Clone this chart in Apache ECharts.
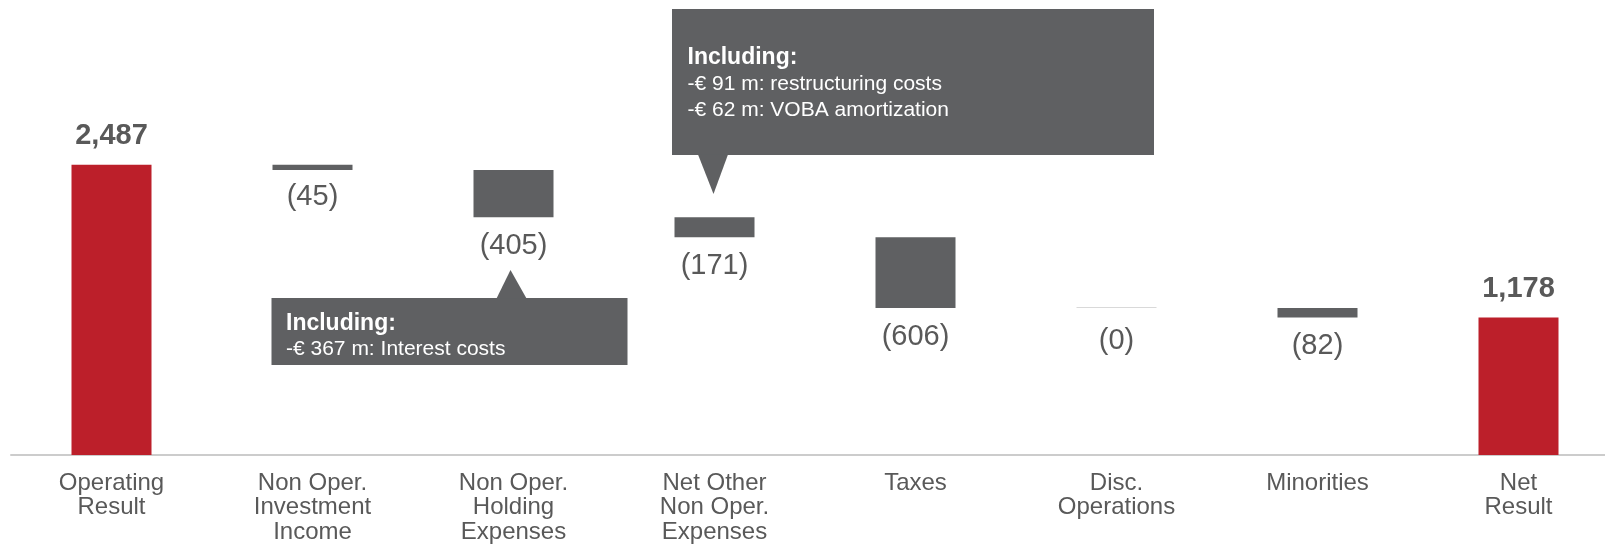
<!DOCTYPE html>
<html lang="en">
<head>
    <meta charset="UTF-8">
    <title>Net result bridge</title>
    <script type="text/javascript" src="https://cdn.jsdelivr.net/npm/echarts@6/dist/echarts.min.js"></script>
    <style>
        html, body { margin: 0; padding: 0; background: #fff; }
        #main { width: 1605px; height: 544px; }
    </style>
</head>
<body>
<div id="main"></div>

<script type="text/javascript">
    var categories = ['Operating\nResult', 'Non Oper.\nInvestment\nIncome', 'Non Oper.\nHolding\nExpenses',
        'Net Other\nNon Oper.\nExpenses', 'Taxes', 'Disc.\nOperations', 'Minorities', 'Net\nResult'];
    var startValue = 2487;
    var changes = [-45, -405, -171, -606, 0, -82];
    var endValue = 1178;
    var note1 = ['Including:', '-€ 367 m: Interest costs'];
    var note2 = ['Including:', '-€ 91 m: restructuring costs', '-€ 62 m: VOBA amortization'];

    var RED = '#BC1F2A', GREY = '#5F6062', TXT = '#595959';
    var FONT = 'Liberation Sans, Arial, sans-serif';

    // waterfall: invisible base + visible step
    var base = [0], step = [startValue], raw = [startValue], total = [true];
    var running = startValue;
    changes.forEach(function (c) {
        running += c;
        base.push(running);
        step.push(-c);
        raw.push(c);
        total.push(false);
    });
    base.push(0);
    step.push(endValue);
    raw.push(endValue);
    total.push(true);

    var stepData = step.map(function (v, i) {
        var item = {value: v};
        if (total[i]) {
            item.itemStyle = {color: RED};
            item.label = {position: 'top', distance: 14, fontSize: 29, fontWeight: 'bold'};
        } else {
            item.itemStyle = {color: v === 0 ? '#d9d9d9' : GREY};
            item.label = {position: 'bottom', distance: v === 0 ? 18 : (i === 1 ? 12 : 14), fontSize: 29};
        }
        return item;
    });

    var chartDom = document.getElementById('main');
    var myChart = echarts.init(chartDom);

    var option = {
        animation: false,
        textStyle: {fontFamily: FONT},
        grid: {left: 11, right: -14, top: 105, bottom: 89, outerBoundsMode: 'none', containLabel: false},
        xAxis: {
            type: 'category',
            data: categories,
            axisLine: {lineStyle: {color: '#cccccc', width: 2}},
            axisTick: {show: false},
            axisLabel: {color: TXT, fontSize: 24, lineHeight: 24.5, margin: 16, interval: 0, fontFamily: FONT}
        },
        yAxis: {type: 'value', min: 0, max: 3000, show: false, splitLine: {show: false}},
        series: [
            {
                type: 'bar',
                stack: 'wf',
                barWidth: 80,
                itemStyle: {color: 'transparent'},
                emphasis: {disabled: true},
                data: base
            },
            {
                type: 'bar',
                stack: 'wf',
                barWidth: 80,
                barMinHeight: 1,
                label: {
                    show: true,
                    color: TXT,
                    fontFamily: FONT,
                    formatter: function (p) {
                        var v = raw[p.dataIndex];
                        if (total[p.dataIndex]) return v.toLocaleString('en-US');
                        return '(' + Math.abs(v) + ')';
                    }
                },
                data: stepData
            }
        ]
    };

    myChart.setOption(option);

    // callouts anchored to their category
    var c2 = myChart.convertToPixel({gridIndex: 0}, [2, 0])[0];
    var c3 = myChart.convertToPixel({gridIndex: 0}, [3, 0])[0];

    function textEl(str, x, y, bold, size) {
        return {
            type: 'text',
            style: {
                text: str, x: x, y: y, fill: '#ffffff',
                fontFamily: FONT, fontSize: size, fontWeight: bold ? 'bold' : 'normal',
                verticalAlign: 'middle', align: 'left'
            }
        };
    }

    var b1x = c2 - 242, b2x = c3 - 42.5;
    var graphic = [
        {type: 'rect', shape: {x: b1x, y: 298, width: 356, height: 67}, style: {fill: GREY}},
        {type: 'polygon', shape: {points: [[c2 - 17, 298.5], [c2 + 13, 298.5], [c2 - 3, 270]]}, style: {fill: GREY}},
        textEl(note1[0], b1x + 14.5, 324, true, 23),
        textEl(note1[1], b1x + 14.5, 349, false, 21),

        {type: 'rect', shape: {x: b2x, y: 9, width: 482, height: 146}, style: {fill: GREY}},
        {type: 'polygon', shape: {points: [[c3 - 16.5, 154.5], [c3 + 13.5, 154.5], [c3 - 1, 194]]}, style: {fill: GREY}},
        textEl(note2[0], b2x + 15.5, 58, true, 23),
        textEl(note2[1], b2x + 15.5, 84.5, false, 21),
        textEl(note2[2], b2x + 15.5, 110, false, 21)
    ];

    myChart.setOption({graphic: graphic});
</script>
</body>
</html>
